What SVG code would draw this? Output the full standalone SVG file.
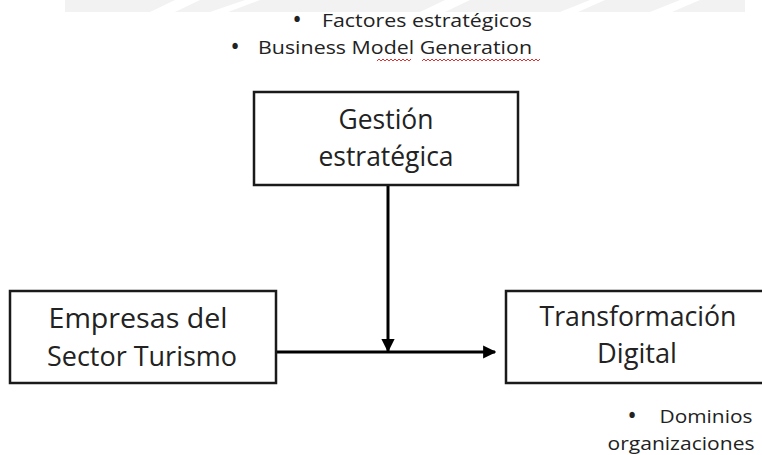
<svg xmlns="http://www.w3.org/2000/svg" width="762" height="455" viewBox="0 0 762 455">
<style>
.box{fill:#fff;stroke:#1a1a1a;stroke-width:2.5}
.t{font-family:"Open Sans","Noto Sans",sans-serif;fill:#222;text-anchor:middle}
.big{font-size:27px}
.small{font-size:19px}
.bul{font-size:19px;font-weight:bold}
.conn{stroke:#000;stroke-width:3;fill:none}
.sq{stroke:#e03030;stroke-width:1;fill:none}
</style>
<defs>
<marker id="ah" viewBox="0 0 10 10" refX="9" refY="5" markerWidth="4.4" markerHeight="4.4" orient="auto" markerUnits="strokeWidth">
<path d="M0,0 L10,5 L0,10 z" fill="#000"/>
</marker>
</defs>
<g id="watermark">
<rect x="65" y="0" width="680" height="12" fill="#f2f2f2"/>
<polygon points="150,12 175,0 200,0 175,12" fill="#fff"/>
<polygon points="210,12 245,0 260,0 228,12" fill="#fff"/>
<polygon points="420,12 445,0 470,0 445,12" fill="#fff"/>
<polygon points="560,12 590,0 605,0 578,12" fill="#fff"/>
<polygon points="650,12 680,0 700,0 672,12" fill="#fff"/>
</g>
<g id="top-notes">
<text class="t bul" x="297" y="26">•</text>
<text class="t small" x="427" y="27" textLength="210" lengthAdjust="spacingAndGlyphs">Factores estratégicos</text>
<text class="t bul" x="235" y="53">•</text>
<text class="t small" x="395" y="54" textLength="274" lengthAdjust="spacingAndGlyphs">Business Model Generation</text>
<path class="sq" d="M377,61 l2,-2 l2,2 l2,-2 l2,2 l2,-2 l2,2 l2,-2 l2,2 l2,-2 l2,2 l2,-2 l2,2 l2,-2 l2,2 l2,-2 l2,2 l2,-2"/>
<path class="sq" d="M422,61 l2,-2 l2,2 l2,-2 l2,2 l2,-2 l2,2 l2,-2 l2,2 l2,-2 l2,2 l2,-2 l2,2 l2,-2 l2,2 l2,-2 l2,2 l2,-2 l2,2 l2,-2 l2,2 l2,-2 l2,2 l2,-2 l2,2 l2,-2 l2,2 l2,-2 l2,2 l2,-2 l2,2 l2,-2 l2,2 l2,-2 l2,2 l2,-2 l2,2 l2,-2 l2,2 l2,-2 l2,2 l2,-2 l2,2 l2,-2 l2,2 l2,-2 l2,2 l2,-2 l2,2 l2,-2 l2,2 l2,-2 l2,2 l2,-2 l2,2 l2,-2 l2,2 l2,-2 l2,2 l2,-2"/>
</g>
<g id="connectors">
<line class="conn" x1="276" y1="352" x2="495" y2="352" marker-end="url(#ah)"/>
<line class="conn" x1="388" y1="185" x2="388" y2="351" marker-end="url(#ah)"/>
</g>
<g id="node-gestion">
<rect class="box" x="254" y="92" width="264" height="93"/>
<text class="t big" x="386" y="129" textLength="95" lengthAdjust="spacingAndGlyphs">Gestión</text>
<text class="t big" x="386" y="166" textLength="135" lengthAdjust="spacingAndGlyphs">estratégica</text>
</g>
<g id="node-empresas">
<rect class="box" x="10" y="291" width="266" height="92"/>
<text class="t big" x="138" y="328" textLength="179" lengthAdjust="spacingAndGlyphs">Empresas del</text>
<text class="t big" x="142" y="366" textLength="190" lengthAdjust="spacingAndGlyphs">Sector Turismo</text>
</g>
<g id="node-transformacion">
<rect class="box" x="506" y="291" width="264" height="92"/>
<text class="t big" x="638" y="326" textLength="197" lengthAdjust="spacingAndGlyphs">Transformación</text>
<text class="t big" x="637" y="363" textLength="80" lengthAdjust="spacingAndGlyphs">Digital</text>
</g>
<g id="bottom-notes">
<text class="t bul" x="632" y="422">•</text>
<text class="t small" x="706" y="423" textLength="93" lengthAdjust="spacingAndGlyphs">Dominios</text>
<text class="t small" x="681" y="450" textLength="147" lengthAdjust="spacingAndGlyphs">organizaciones</text>
</g>
</svg>
